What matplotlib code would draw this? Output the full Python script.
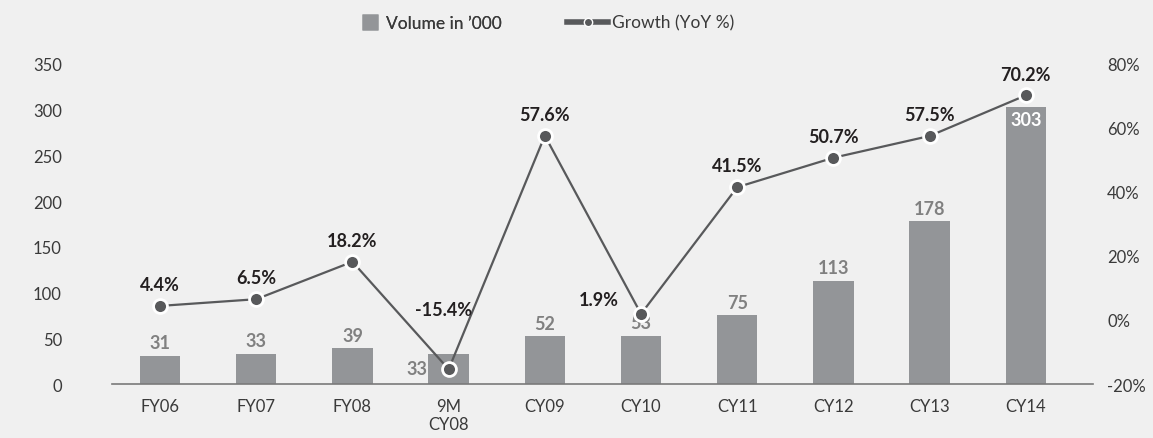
import matplotlib
matplotlib.use("Agg")
import matplotlib.pyplot as plt
from matplotlib.lines import Line2D

categories = ["FY06", "FY07", "FY08", "9M\nCY08", "CY09", "CY10", "CY11", "CY12", "CY13", "CY14"]
volume = [31, 33, 39, 33, 52, 53, 75, 113, 178, 303]
growth = [4.4, 6.5, 18.2, -15.4, 57.6, 1.9, 41.5, 50.7, 57.5, 70.2]
left_ticks = [0, 50, 100, 150, 200, 250, 300, 350]
right_ticks = [-20, 0, 20, 40, 60, 80]

BG = "#f0f0f0"
BAR = "#939598"
LINE = "#58595b"
TXT = "#3a3a3a"

plt.rcParams['font.family'] = ['Lato', 'DejaVu Sans']

fig = plt.figure(figsize=(11.53, 4.39), dpi=100, facecolor=BG)
ax = fig.add_axes([0.0971, 0.123, 0.851, 0.729])
ax.set_facecolor(BG)
x = list(range(len(categories)))
ax.bar(x, volume, width=0.42, color=BAR, zorder=2)
ax.set_xlim(-0.5, 9.7)
ax.set_ylim(0, 350)
ax.set_yticks(left_ticks)
ax.set_xticks(x)
ax.set_xticklabels(categories)
for s in ["top", "right", "left"]:
    ax.spines[s].set_visible(False)
ax.spines["bottom"].set_color("#7a7a7a")
ax.spines["bottom"].set_linewidth(1.2)
ax.tick_params(axis="y", length=0, pad=36, labelsize=12, labelcolor=TXT)
ax.tick_params(axis="x", length=0, pad=10, labelsize=12, labelcolor=TXT)

# bar labels
for i, v in enumerate(volume):
    if i == 3:
        ax.text(i - 0.33, v / 2, str(v), ha="center", va="center", fontsize=13,
                fontweight="bold", color="#808080", zorder=5)
    elif i == 9:
        ax.text(i, v - 4, str(v), ha="center", va="top", fontsize=13,
                fontweight="bold", color="white", zorder=5)
    else:
        ax.text(i, v + 5, str(v), ha="center", va="bottom", fontsize=13,
                fontweight="bold", color="#808080", zorder=5)

ax2 = ax.twinx()
ax2.set_ylim(-20, 80)
ax2.set_yticks(right_ticks)
ax2.set_yticklabels([f"{t}%" for t in right_ticks])
for s in ["top", "right", "left", "bottom"]:
    ax2.spines[s].set_visible(False)
ax2.tick_params(axis="y", length=0, pad=10, labelsize=12, labelcolor=TXT)
ax2.plot(x, growth, color=LINE, lw=1.6, marker="o", markersize=10,
         markerfacecolor=LINE, markeredgecolor="white", markeredgewidth=2, zorder=4)

offsets = {3: (-0.05, 16, "center"), 5: (-0.44, 2, "center")}
for i, g in enumerate(growth):
    dx, dy, ha = offsets.get(i, (0, 4, "center"))
    ax2.text(i + dx, g + dy, f"{g}%", ha=ha, va="bottom", fontsize=13,
             fontweight="bold", color="#231f20", zorder=6, clip_on=False)

h1 = Line2D([0], [0], linestyle="none", marker="s", markersize=11,
            markerfacecolor=BAR, markeredgecolor="none", label="Volume in \u2019000")
h2 = Line2D([0], [0], color=LINE, lw=4, marker="o", markersize=6,
            markerfacecolor=LINE, markeredgecolor="white", label="Growth (YoY %)")
leg1 = fig.legend(handles=[h1], loc="upper left", bbox_to_anchor=(0.300, 1.0),
                  frameon=False, fontsize=12.5, handlelength=1.0, handletextpad=0.4,
                  labelcolor=TXT)
fig.add_artist(leg1)
fig.legend(handles=[h2], loc="upper left", bbox_to_anchor=(0.478, 1.0),
           frameon=False, fontsize=12.5, handlelength=2.4, handletextpad=0.2,
           labelcolor=TXT)

fig.savefig("out.png", dpi=100, facecolor=BG)
